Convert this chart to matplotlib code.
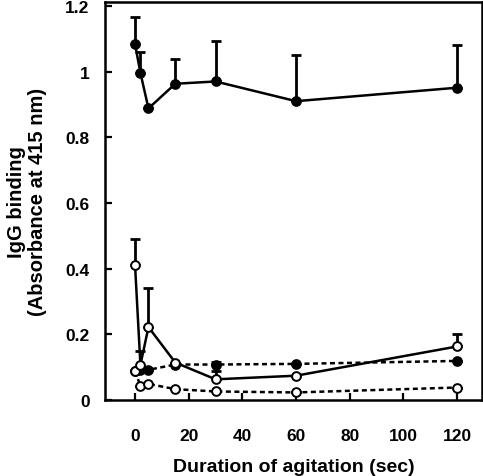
import matplotlib
matplotlib.use("Agg")
import matplotlib.pyplot as plt
import numpy as np

plt.rcParams['font.family'] = ['Liberation Sans', 'DejaVu Sans']
plt.rcParams['font.weight'] = 'bold'

time_sec = [0, 2, 5, 15, 30, 60, 120]

# Series A: filled circles, solid line
filled_solid = [1.084, 0.996, 0.888, 0.963, 0.970, 0.910, 0.951]
filled_solid_err = [0.083, 0.064, 0.0, 0.075, 0.123, 0.140, 0.129]

# Series B: open circles, solid line
open_solid = [0.410, 0.107, 0.222, 0.114, 0.063, 0.074, 0.163]
open_solid_err = [0.081, 0.042, 0.119, 0.0, 0.024, 0.0, 0.038]

# Series C: filled circles, dotted line
filled_dotted = [0.088, 0.090, 0.092, 0.108, 0.108, 0.110, 0.119]
filled_dotted_err = [0.0, 0.0, 0.0, 0.0, 0.008, 0.0, 0.0]

# Series D: open circles, dotted line
open_dotted = [0.088, 0.043, 0.049, 0.033, 0.026, 0.023, 0.038]
open_dotted_err = [0.0, 0.0, 0.0, 0.0, 0.0, 0.0, 0.0]

y_ticks = [0, 0.2, 0.4, 0.6, 0.8, 1.0, 1.2]
y_tick_labels = ['0', '0.2', '0.4', '0.6', '0.8', '1', '1.2']
x_ticks = [0, 20, 40, 60, 80, 100, 120]

fig = plt.figure(figsize=(4.83, 4.77), dpi=100)
ax = fig.add_axes([105/483, 76/477, 377/483, 398/477])

ms = 6.3
lw = 1.8
dotted = (0, (2.0, 1.4))

def plot_series(y, err, filled, ls, z):
    y = np.array(y)
    err = np.array(err)
    ax.errorbar(time_sec, y, yerr=[np.zeros_like(err), err], fmt='none',
                ecolor='black', elinewidth=2.0, capsize=3.6, capthick=2.0, zorder=z)
    ax.plot(time_sec, y, color='black', linestyle=ls, linewidth=lw, zorder=z + 0.1)
    ax.plot(time_sec, y, linestyle='none', marker='o', markersize=ms,
            markerfacecolor='black' if filled else 'white',
            markeredgecolor='black', markeredgewidth=1.4, zorder=z + 0.2)

plot_series(filled_dotted, filled_dotted_err, True, dotted, 2)
plot_series(open_dotted, open_dotted_err, False, dotted, 3)
plot_series(filled_solid, filled_solid_err, True, '-', 4)
plot_series(open_solid, open_solid_err, False, '-', 5)

ax.set_xlim(-11.2, 129.3)
ax.set_ylim(0, 1.212)
ax.set_xticks(x_ticks)
ax.set_yticks(y_ticks)
ax.set_yticklabels(y_tick_labels)
ax.tick_params(direction='in', length=5, width=1.6, labelsize=12.5)
ax.tick_params(axis='x', pad=20)
ax.tick_params(axis='y', pad=11)
for s in ax.spines.values():
    s.set_linewidth(1.8)

ax.set_xlabel('Duration of agitation (sec)', fontsize=14, fontweight='bold', labelpad=11)
ax.set_ylabel('IgG binding\n(Absorbance at 415 nm)', fontsize=14.5, fontweight='bold',
              labelpad=13, linespacing=1.15)

fig.savefig('out.png', dpi=100)
